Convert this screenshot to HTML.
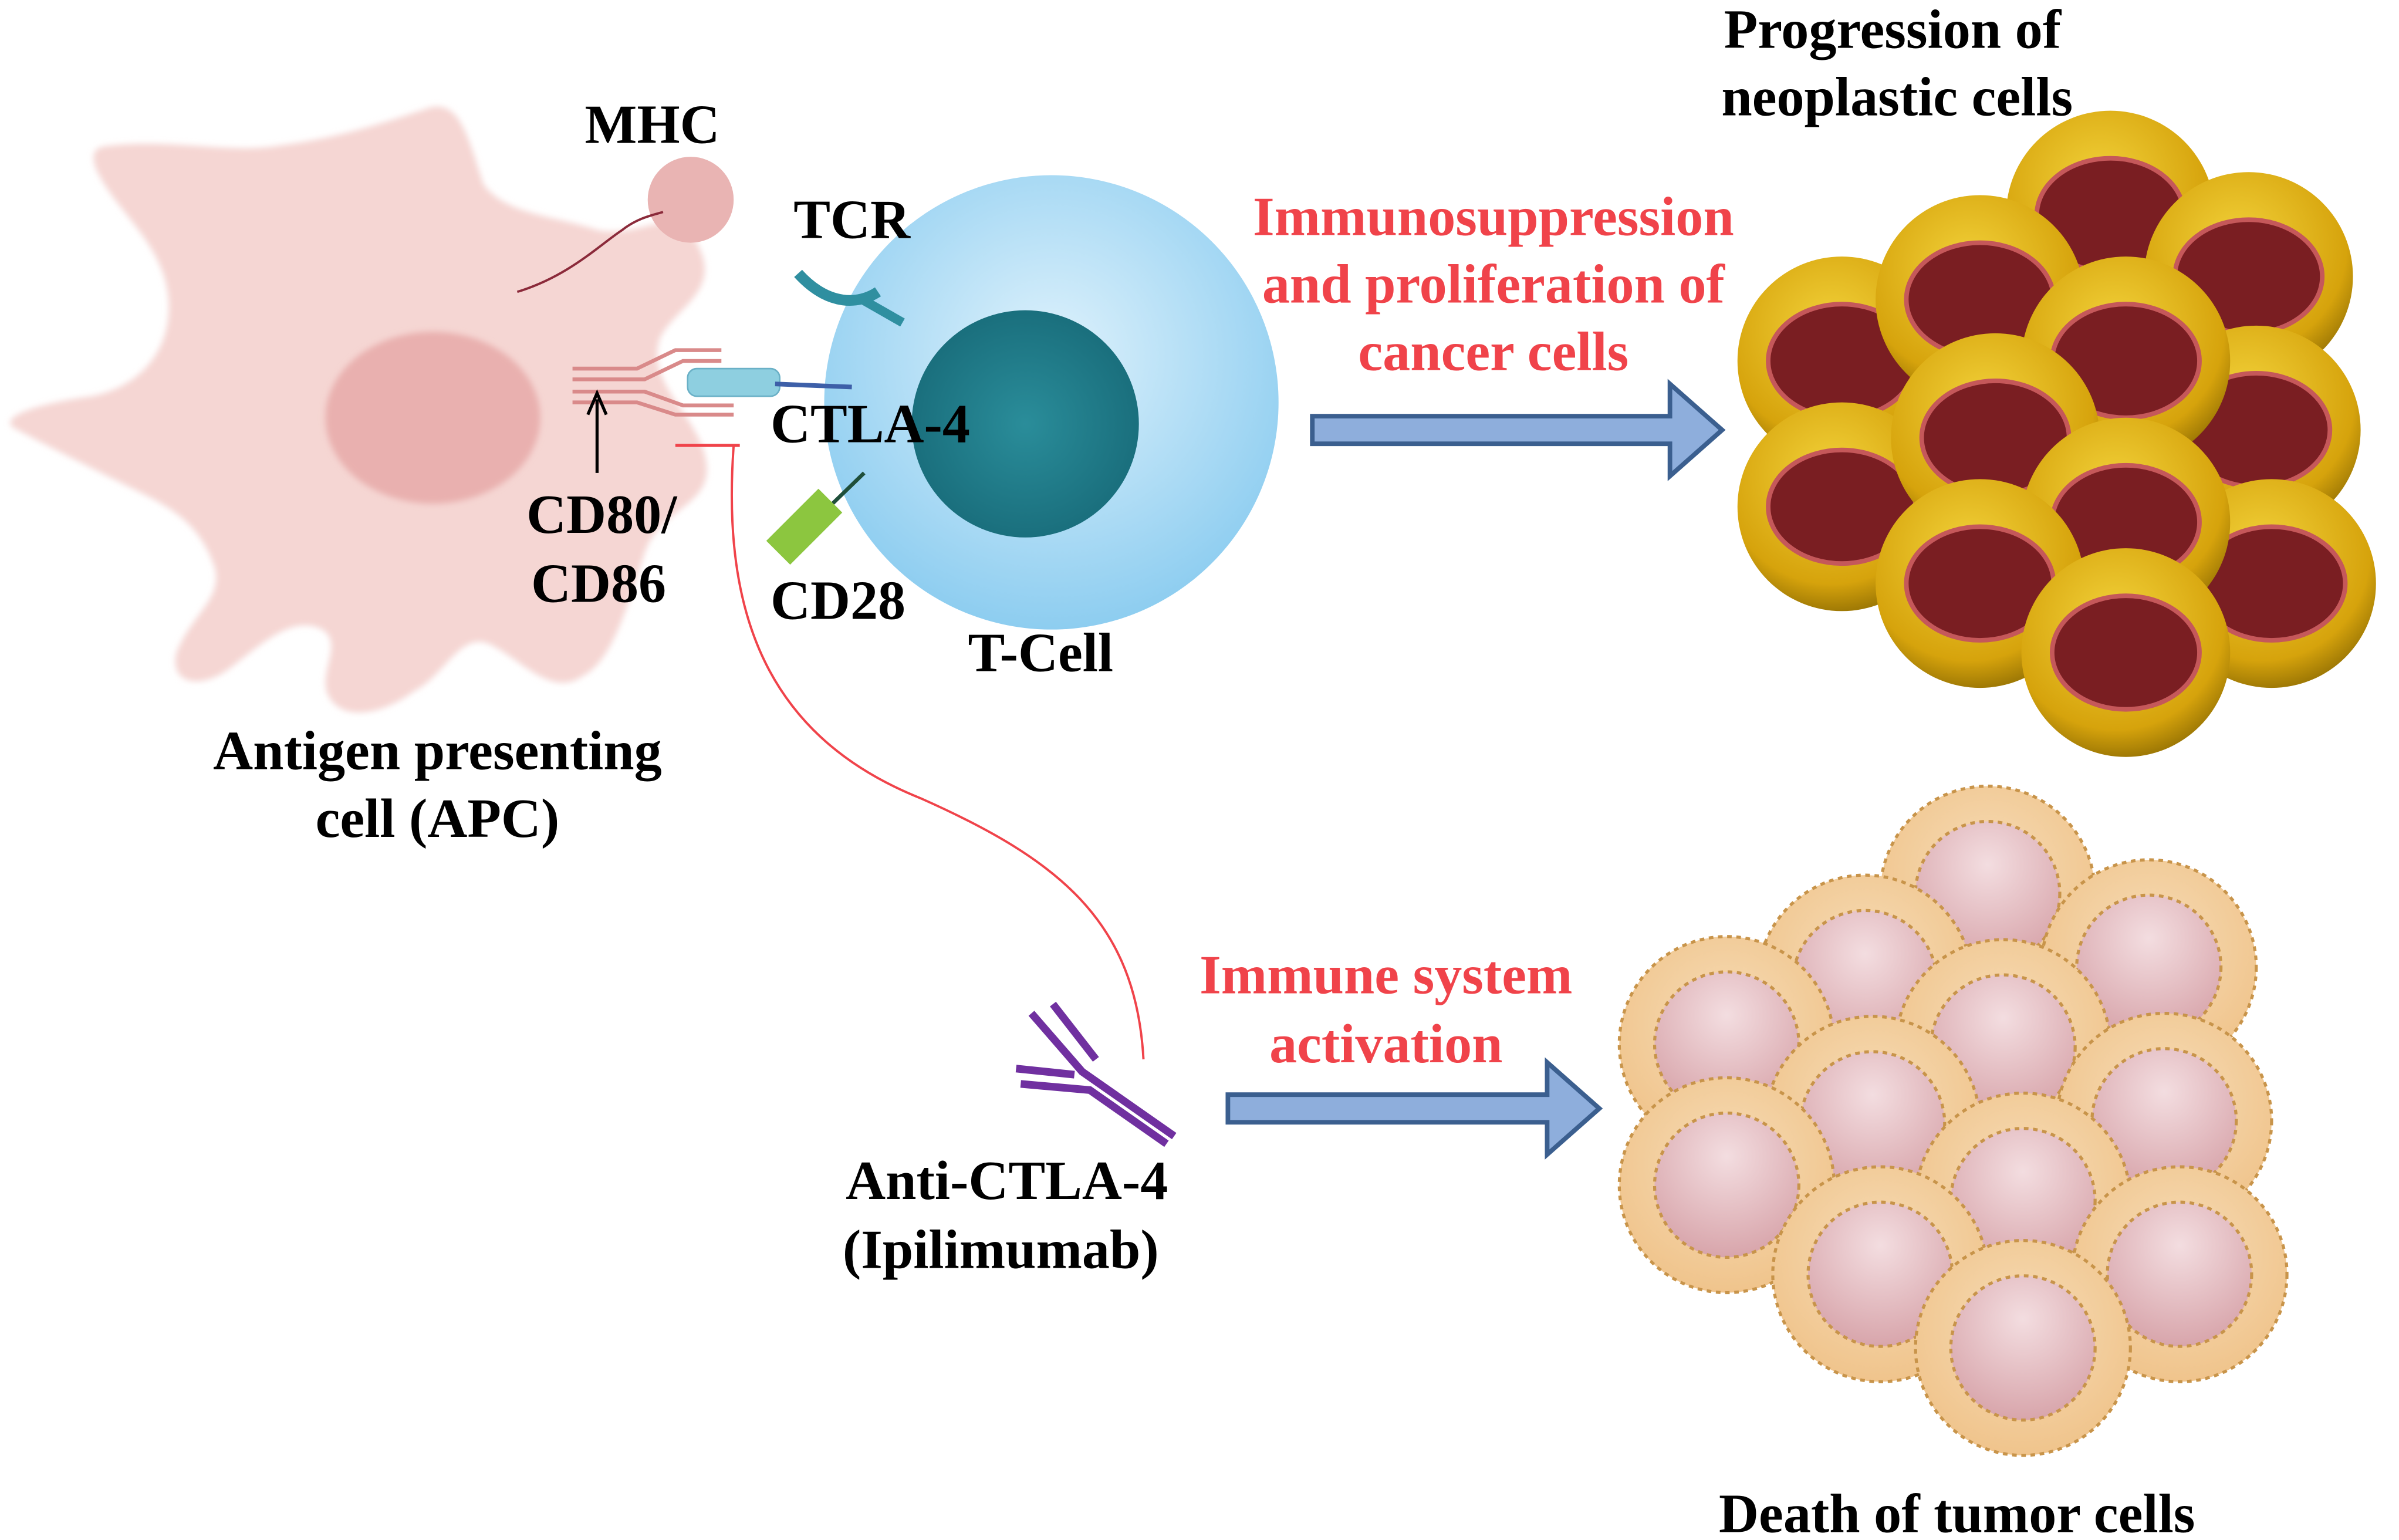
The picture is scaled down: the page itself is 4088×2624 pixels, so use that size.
<!DOCTYPE html>
<html><head><meta charset="utf-8"><style>
html,body{margin:0;padding:0;background:#fff}
svg{display:block}
text{font-family:"Liberation Serif",serif;font-weight:bold;font-size:36px;text-anchor:middle}
.r{fill:#f0434a}
.s{text-anchor:start}
</style></head><body>
<svg width="4088" height="2624" viewBox="0 0 1563 1003" xmlns="http://www.w3.org/2000/svg">
<defs>
<radialGradient id="tc" cx="0.5" cy="0.4" r="0.6"><stop offset="0" stop-color="#dff2fc"/><stop offset="1" stop-color="#8dcdf0"/></radialGradient>
<radialGradient id="tn" cx="0.5" cy="0.5" r="0.5"><stop offset="0" stop-color="#2a8d9a"/><stop offset="1" stop-color="#1a6f7d"/></radialGradient>
<radialGradient id="yc" cx="0.45" cy="0.35" r="0.65"><stop offset="0" stop-color="#f2d23a"/><stop offset="0.8" stop-color="#d6a30c"/><stop offset="1" stop-color="#a07a05"/></radialGradient>
<radialGradient id="bc" cx="0.5" cy="0.4" r="0.6"><stop offset="0" stop-color="#f6dcb6"/><stop offset="1" stop-color="#f0c48c"/></radialGradient>
<radialGradient id="bn" cx="0.5" cy="0.3" r="0.7"><stop offset="0" stop-color="#f3dde0"/><stop offset="1" stop-color="#d8a5ab"/></radialGradient>
<filter id="bl"><feGaussianBlur stdDeviation="2"/></filter>
</defs>
<path d="M70,95 C110,90 150,100 180,95 C220,90 250,80 280,70 C300,65 305,90 315,120 C330,140 360,140 390,150 C420,155 440,130 455,160 C470,190 440,200 430,220 C420,250 455,270 460,300 C465,330 430,330 420,360 C410,390 400,430 380,440 C360,455 340,430 320,420 C300,410 290,440 270,450 C250,465 225,470 215,455 C205,440 225,420 210,410 C190,400 170,420 150,435 C130,450 110,445 115,425 C125,400 145,390 140,370 C130,340 110,330 90,320 C60,305 30,290 8,278 C0,270 30,262 60,258 C90,252 110,230 110,200 C110,170 90,150 75,130 C60,110 55,96 70,95 Z" fill="#f5d6d3" filter="url(#bl)"/>
<ellipse cx="282" cy="272" rx="70" ry="56" fill="#e9b0af" filter="url(#bl)"/>
<circle cx="450" cy="130" r="28" fill="#e9b4b3"/>
<path d="M337,190 C370,180 390,160 405,150 C415,142 425,140 432,138" fill="none" stroke="#8b2a3a" stroke-width="1.5"/>
<path d="M373,240 L415,240 L440,228 L470,228 M373,247 L420,247 L445,235 L470,235" fill="none" stroke="#d98a8a" stroke-width="2.5"/>
<path d="M373,255 L420,255 L445,264 L478,264 M373,262 L415,262 L440,270 L478,270" fill="none" stroke="#d98a8a" stroke-width="2.5"/>
<circle cx="685" cy="262" r="148" fill="url(#tc)"/>
<circle cx="668" cy="276" r="74" fill="url(#tn)"/>
<path d="M520,178 C540,200 560,198 572,190" fill="none" stroke="#2f8fa0" stroke-width="7"/>
<line x1="560" y1="194" x2="588" y2="210" stroke="#2f8fa0" stroke-width="6"/>
<rect x="448" y="240" width="60" height="18" rx="6" fill="#8ecfe0" stroke="#6ab0c6"/>
<line x1="505" y1="250" x2="555" y2="252" stroke="#3d5fa8" stroke-width="3"/>
<line x1="530" y1="340" x2="563" y2="308" stroke="#1f4f3a" stroke-width="2.5"/>
<rect x="500" y="332" width="48" height="22" fill="#8cc63f" transform="rotate(-45 524 343)"/>
<line x1="389" y1="308" x2="389" y2="260" stroke="#000" stroke-width="2"/>
<path d="M383,270 L389,256 L395,270" fill="none" stroke="#000" stroke-width="2"/>
<line x1="440" y1="290" x2="482" y2="290" stroke="#f0434a" stroke-width="2"/>
<path d="M478,290 C470,400 500,480 600,520 C690,560 740,600 745,690" fill="none" stroke="#f0434a" stroke-width="1.5"/>
<g stroke="#7030a0" stroke-width="5" fill="none">
<path d="M672,660 L705,698 L765,740"/><path d="M686,654 L714,690"/>
<path d="M665,706 L710,710 L760,745"/><path d="M662,696 L700,700"/>
</g>
<path d="M855,271 L1088,271 L1088,250 L1122,280 L1088,310 L1088,289 L855,289 Z" fill="#8eaedc" stroke="#3b5f8f" stroke-width="3"/>
<path d="M800,713 L1008,713 L1008,692 L1042,722 L1008,752 L1008,731 L800,731 Z" fill="#8eaedc" stroke="#3b5f8f" stroke-width="3"/>
<g>
<g transform="translate(1375,140)"><circle r="68" fill="url(#yc)"/><ellipse rx="48" ry="37" fill="#7a1e22" stroke="#c5585a" stroke-width="3"/></g>
<g transform="translate(1200,235)"><circle r="68" fill="url(#yc)"/><ellipse rx="48" ry="37" fill="#7a1e22" stroke="#c5585a" stroke-width="3"/></g>
<g transform="translate(1465,180)"><circle r="68" fill="url(#yc)"/><ellipse rx="48" ry="37" fill="#7a1e22" stroke="#c5585a" stroke-width="3"/></g>
<g transform="translate(1290,195)"><circle r="68" fill="url(#yc)"/><ellipse rx="48" ry="37" fill="#7a1e22" stroke="#c5585a" stroke-width="3"/></g>
<g transform="translate(1470,280)"><circle r="68" fill="url(#yc)"/><ellipse rx="48" ry="37" fill="#7a1e22" stroke="#c5585a" stroke-width="3"/></g>
<g transform="translate(1385,235)"><circle r="68" fill="url(#yc)"/><ellipse rx="48" ry="37" fill="#7a1e22" stroke="#c5585a" stroke-width="3"/></g>
<g transform="translate(1200,330)"><circle r="68" fill="url(#yc)"/><ellipse rx="48" ry="37" fill="#7a1e22" stroke="#c5585a" stroke-width="3"/></g>
<g transform="translate(1300,285)"><circle r="68" fill="url(#yc)"/><ellipse rx="48" ry="37" fill="#7a1e22" stroke="#c5585a" stroke-width="3"/></g>
<g transform="translate(1480,380)"><circle r="68" fill="url(#yc)"/><ellipse rx="48" ry="37" fill="#7a1e22" stroke="#c5585a" stroke-width="3"/></g>
<g transform="translate(1385,340)"><circle r="68" fill="url(#yc)"/><ellipse rx="48" ry="37" fill="#7a1e22" stroke="#c5585a" stroke-width="3"/></g>
<g transform="translate(1290,380)"><circle r="68" fill="url(#yc)"/><ellipse rx="48" ry="37" fill="#7a1e22" stroke="#c5585a" stroke-width="3"/></g>
<g transform="translate(1385,425)"><circle r="68" fill="url(#yc)"/><ellipse rx="48" ry="37" fill="#7a1e22" stroke="#c5585a" stroke-width="3"/></g>
</g>
<g stroke="#c8944a" stroke-width="2" stroke-dasharray="3,3">
<g transform="translate(1295,582)"><circle r="70" fill="url(#bc)"/><circle r="47" fill="url(#bn)"/></g>
<g transform="translate(1215,640)"><circle r="70" fill="url(#bc)"/><circle r="47" fill="url(#bn)"/></g>
<g transform="translate(1400,630)"><circle r="70" fill="url(#bc)"/><circle r="47" fill="url(#bn)"/></g>
<g transform="translate(1125,680)"><circle r="70" fill="url(#bc)"/><circle r="47" fill="url(#bn)"/></g>
<g transform="translate(1305,682)"><circle r="70" fill="url(#bc)"/><circle r="47" fill="url(#bn)"/></g>
<g transform="translate(1410,730)"><circle r="70" fill="url(#bc)"/><circle r="47" fill="url(#bn)"/></g>
<g transform="translate(1220,732)"><circle r="70" fill="url(#bc)"/><circle r="47" fill="url(#bn)"/></g>
<g transform="translate(1125,772)"><circle r="70" fill="url(#bc)"/><circle r="47" fill="url(#bn)"/></g>
<g transform="translate(1318,782)"><circle r="70" fill="url(#bc)"/><circle r="47" fill="url(#bn)"/></g>
<g transform="translate(1420,830)"><circle r="70" fill="url(#bc)"/><circle r="47" fill="url(#bn)"/></g>
<g transform="translate(1225,830)"><circle r="70" fill="url(#bc)"/><circle r="47" fill="url(#bn)"/></g>
<g transform="translate(1318,878)"><circle r="70" fill="url(#bc)"/><circle r="47" fill="url(#bn)"/></g>
</g>
<text x="425" y="93">MHC</text>
<text x="555" y="155">TCR</text>
<text class="s" x="502" y="288">CTLA-4</text>
<text x="392" y="347">CD80/</text>
<text x="390" y="392">CD86</text>
<text class="s" x="502" y="403">CD28</text>
<text x="678" y="437">T-Cell</text>
<text x="285" y="501">Antigen presenting</text>
<text x="285" y="545">cell (APC)</text>
<text x="1233" y="31">Progression of</text>
<text x="1236" y="75">neoplastic cells</text>
<text class="r" x="973" y="153">Immunosuppression</text>
<text class="r" x="973" y="197">and proliferation of</text>
<text class="r" x="973" y="241">cancer cells</text>
<text class="r" x="903" y="647">Immune system</text>
<text class="r" x="903" y="692">activation</text>
<text x="656" y="781">Anti-CTLA-4</text>
<text x="652" y="826">(Ipilimumab)</text>
<text x="1275" y="998">Death of tumor cells</text>
</svg>
</body></html>
